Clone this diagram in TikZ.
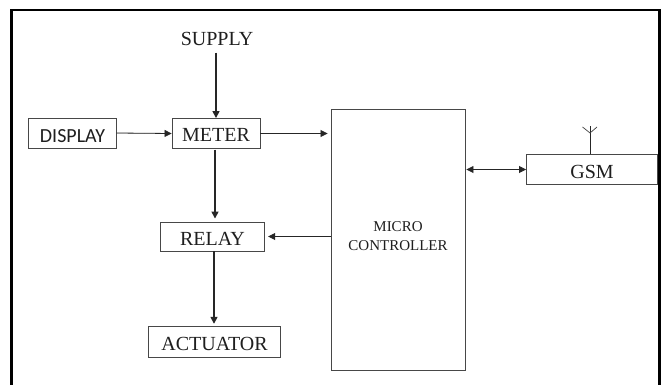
\documentclass[tikz,border=0pt]{standalone}
\usepackage{fontspec}
\setmainfont{Liberation Serif}
\newfontfamily\calibrifont{Carlito}
\usetikzlibrary{arrows.meta,calc}
\definecolor{boxline}{gray}{0.28}
\tikzset{
  x=1pt,y=-1pt,
  blockbox/.style={draw=boxline,line width=0.9pt,fill=white,inner sep=0pt,align=center,font=\fontsize{20}{22}\selectfont,text=black!88},
  lowtext/.style={text height=17pt,text depth=0pt},
  lightarrow/.style={-{Triangle[length=7pt,width=7pt]},line width=0.8pt,draw=black!85,fill=black},
  heavyarrow/.style={-{Triangle[length=7pt,width=7pt]},line width=1.5pt,draw=black!85,fill=black},
  bothways/.style={{Triangle[length=7pt,width=7pt]}-{Triangle[length=7pt,width=7pt]},line width=0.8pt,draw=black!85},
}
\begin{document}
\begin{tikzpicture}
\useasboundingbox (0,0) rectangle (661,385);
\fill[white] (0,0) rectangle (661,385);
\coordinate (frameBL) at (11.5,385);
\coordinate (frameTL) at (11.5,10);
\coordinate (frameTR) at (659.5,10);
\coordinate (frameBR) at (659.5,385);
\draw[line width=2.8pt,black] (frameBL) -- (frameTL) -- (frameTR) -- (frameBR);

\node[font=\fontsize{20}{22}\selectfont,text=black!88,inner sep=0pt] (supply) at (217,39) {SUPPLY};
\node[blockbox,minimum width=88pt,minimum height=30pt,text height=18.6pt,text depth=0pt,font=\calibrifont\fontsize{20}{22}\selectfont] (display) at (72.5,133) {DISPLAY};
\node[blockbox,lowtext,minimum width=88pt,minimum height=30pt] (meter) at (216,133.5) {METER};
\node[blockbox,lowtext,minimum width=104.5pt,minimum height=29pt] (relay) at (212.5,236.5) {RELAY};
\node[blockbox,lowtext,minimum width=131.5pt,minimum height=31.5pt] (actuator) at (214.5,342) {ACTUATOR};
\node[blockbox,minimum width=134pt,minimum height=261.5pt,font=\fontsize{15}{19}\selectfont] (micro) at (398,240) {\raisebox{0.5pt}[22pt][22pt]{\parbox{120pt}{\centering MICRO\\CONTROLLER}}};
\node[blockbox,lowtext,minimum width=131pt,minimum height=30pt] (gsm) at (592,169.5) {GSM};

\coordinate (antJ) at (590,133);
\coordinate (antL) at (582.5,127);
\coordinate (antR) at (597,127);
\coordinate (antT) at (590,126.5);
\draw[line width=0.8pt,black!85] (gsm.north -| antJ) -- (antT);
\draw[line width=0.7pt,black!75] (antL) -- (antJ) -- (antR);

\draw[heavyarrow,shorten <=7pt] (supply.south -| meter.north) -- (meter.north);
\draw[lightarrow] (display.east) -- (meter.west);
\draw[lightarrow,shorten >=3pt] (meter.east) -- (micro.west |- meter.east);
\draw[heavyarrow,shorten <=1pt,shorten >=3pt] (meter.south -| 215,0) -- (relay.north -| 215,0);
\draw[heavyarrow,shorten >=2pt] (relay.south -| 214,0) -- (actuator.north -| 214,0);
\draw[lightarrow,shorten >=3pt] (micro.west |- relay.east) -- (relay.east);
\draw[bothways,shorten <=1pt] (micro.east |- gsm.west) -- (gsm.west);
\end{tikzpicture}
\end{document}
